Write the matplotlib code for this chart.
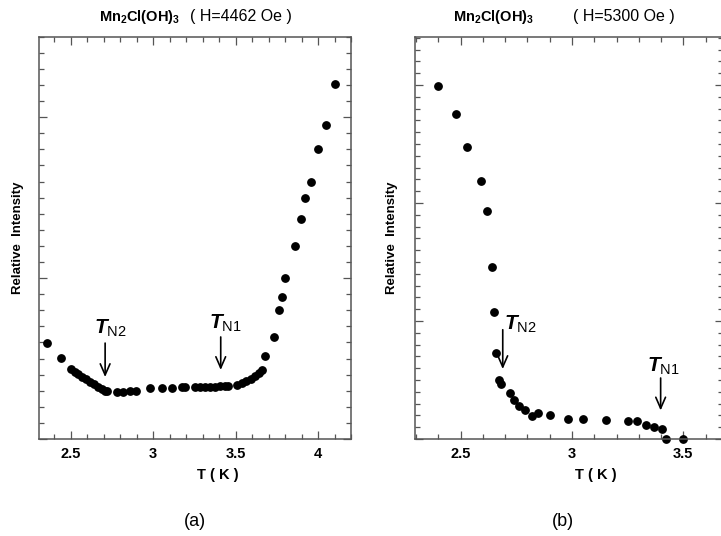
import matplotlib
matplotlib.use("Agg")
import matplotlib.pyplot as plt
from matplotlib.ticker import MultipleLocator, NullFormatter

plt.rcParams["font.family"] = ["Liberation Sans", "DejaVu Sans"]
plt.rcParams["mathtext.fontset"] = "custom"
plt.rcParams["mathtext.rm"] = "Liberation Sans"
plt.rcParams["mathtext.it"] = "Liberation Sans:italic:bold"
plt.rcParams["mathtext.bf"] = "Liberation Sans:bold"

# panel (a): H = 4462 Oe
temp_a = [2.354, 2.441, 2.500, 2.526, 2.546, 2.567, 2.591, 2.617, 2.641, 2.666,
          2.688, 2.708, 2.722, 2.783, 2.819, 2.860, 2.896, 2.981, 3.052, 3.113,
          3.174, 3.194, 3.254, 3.285, 3.315, 3.345, 3.376, 3.406, 3.436, 3.456,
          3.507, 3.538, 3.564, 3.592, 3.618, 3.644, 3.661, 3.680, 3.734, 3.762,
          3.780, 3.800, 3.859, 3.899, 3.922, 3.958, 4.000, 4.051, 4.104]
inten_a = [5.98, 5.01, 4.33, 4.16, 4.02, 3.87, 3.71, 3.54, 3.40, 3.25,
           3.12, 3.00, 2.96, 2.94, 2.94, 2.96, 3.00, 3.15, 3.15, 3.15,
           3.21, 3.21, 3.23, 3.23, 3.24, 3.25, 3.26, 3.27, 3.28, 3.28,
           3.33, 3.46, 3.58, 3.73, 3.91, 4.12, 4.29, 5.16, 6.35, 8.01,
           8.80, 10.0, 12.01, 13.65, 14.99, 16.0, 18.01, 19.50, 22.03]

# panel (b): H = 5300 Oe
temp_b = [2.399, 2.479, 2.530, 2.590, 2.618, 2.641, 2.650, 2.659, 2.673, 2.680,
          2.721, 2.739, 2.761, 2.789, 2.819, 2.849, 2.901, 2.981, 3.051, 3.151,
          3.250, 3.291, 3.332, 3.370, 3.403, 3.422, 3.500]
inten_b = [29.94, 27.54, 24.71, 21.89, 19.35, 14.54, 10.76, 7.29, 5.03, 4.66,
           3.86, 3.27, 2.76, 2.42, 1.97, 2.20, 2.00, 1.72, 1.72, 1.61,
           1.49, 1.49, 1.21, 1.04, 0.81, 0.0, 0.0]

# (label, arrow x, tail y, tip y, label x, label y)
marks_a = [("N2", 2.709, 5.96, 3.85, 2.739, 6.2),
           ("N1", 3.410, 6.34, 4.29, 3.437, 6.5)]
marks_b = [("N2", 2.689, 9.26, 5.93, 2.766, 8.8),
           ("N1", 3.398, 5.17, 2.42, 3.410, 5.25)]

SPINE = "#555555"


def style_axes(ax, xlim, ylim):
    ax.set_xlim(*xlim)
    ax.set_ylim(*ylim)
    ax.xaxis.set_major_locator(MultipleLocator(0.5))
    ax.xaxis.set_minor_locator(MultipleLocator(0.1))
    ax.yaxis.set_major_locator(MultipleLocator(10))
    ax.yaxis.set_minor_locator(MultipleLocator(1))
    ax.yaxis.set_major_formatter(NullFormatter())
    ax.tick_params(which="both", direction="in", top=True, right=True,
                   color=SPINE, width=0.9)
    ax.tick_params(which="major", length=6)
    ax.tick_params(which="minor", length=3.5)
    ax.tick_params(axis="x", labelsize=10.5, pad=6)
    for sp in ax.spines.values():
        sp.set_color(SPINE)
        sp.set_linewidth(1.1)


def draw_marks(ax, marks):
    for name, x, y0, y1, lx, ly in marks:
        ax.annotate("", xy=(x, y1), xytext=(x, y0),
                    arrowprops=dict(arrowstyle="->,head_length=0.8,head_width=0.35",
                                    lw=1.2, color="black", shrinkA=0, shrinkB=0))
        ax.text(lx, ly, r"$T_{\mathrm{%s}}$" % name, fontsize=15,
                ha="center", va="bottom")


fig = plt.figure(figsize=(7.21, 5.36), dpi=100, facecolor="white")

ax_a = fig.add_axes([39 / 721, 97 / 536, 312 / 721, 402.3 / 536])
ax_a.plot(temp_a, inten_a, "o", color="black", markersize=5.3, clip_on=False)
style_axes(ax_a, (2.308, 4.2), (0, 25))
draw_marks(ax_a, marks_a)

ax_b = fig.add_axes([415 / 721, 97 / 536, 308 / 721, 402.3 / 536])
ax_b.plot(temp_b, inten_b, "o", color="black", markersize=5.3, clip_on=False)
style_axes(ax_b, (2.295, 3.678), (0, 34.1))
draw_marks(ax_b, marks_b)

ax_a.set_xticks([2.5, 3, 3.5, 4], ["2.5", "3", "3.5", "4"], fontweight="bold")
ax_b.set_xticks([2.5, 3, 3.5], ["2.5", "3", "3.5"], fontweight="bold")

# titles
ty = 1 - 17 / 536
fig.text(99 / 721, ty, r"$\mathbf{Mn_2Cl(OH)_3}$", fontsize=10.5,
         ha="left", va="center")
fig.text(190 / 721, ty, "( H=4462 Oe )", fontsize=11.5,
         ha="left", va="center")
fig.text(453 / 721, ty, r"$\mathbf{Mn_2Cl(OH)_3}$", fontsize=10.5,
         ha="left", va="center")
fig.text(573 / 721, ty, "( H=5300 Oe )", fontsize=11.5,
         ha="left", va="center")

# axis labels
for xc in (218, 596):
    fig.text(xc / 721, 1 - 475 / 536, "T ( K )", fontsize=10.5,
             fontweight="bold", ha="center", va="center")
for xc in (18, 392):
    fig.text(xc / 721, 1 - 238 / 536, "Relative  Intensity", fontsize=9.5,
             fontweight="bold", rotation=90, ha="center", va="center")

fig.text(195 / 721, 1 - 521 / 536, "(a)", fontsize=13, ha="center", va="center")
fig.text(563 / 721, 1 - 521 / 536, "(b)", fontsize=13, ha="center", va="center")

fig.savefig("out.png", dpi=100, facecolor="white")
